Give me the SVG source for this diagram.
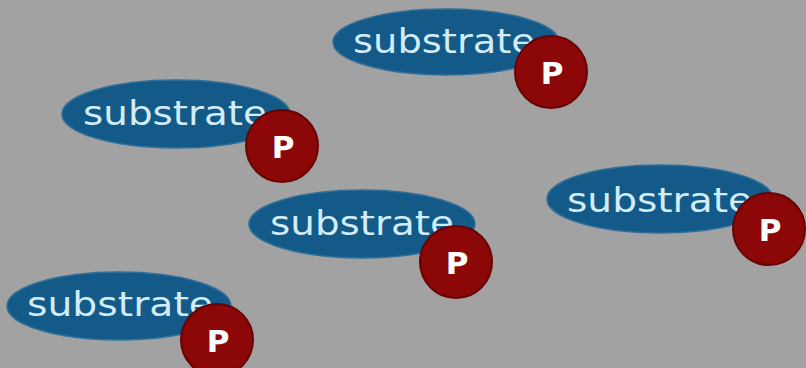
<svg xmlns="http://www.w3.org/2000/svg" width="806" height="368" viewBox="0 0 806 368">
  <style>
    .sub { fill: #135a88; stroke: #2f6f9a; stroke-width: 1.5; }
    .lbl { fill: #d2ecf8; font-family: "DejaVu Sans", Verdana, sans-serif; font-size: 33px; }
    .phos { fill: #8c0808; stroke: #660404; stroke-width: 2; }
    .p { fill: #ffffff; font-family: "DejaVu Sans", Verdana, sans-serif; font-weight: bold; font-size: 31px; text-anchor: middle; }
  </style>
  <rect width="806" height="368" fill="#a2a2a2"/>

  <g id="substrate1">
    <ellipse class="sub" cx="446" cy="42" rx="113" ry="33"/>
    <text class="lbl" x="353" y="53" textLength="182" lengthAdjust="spacingAndGlyphs">substrate</text>
    <circle class="phos" cx="551" cy="72" r="36"/>
    <text class="p" x="552" y="84">P</text>
  </g>

  <g id="substrate2">
    <ellipse class="sub" cx="176" cy="114" rx="114" ry="34"/>
    <text class="lbl" x="83" y="125" textLength="184" lengthAdjust="spacingAndGlyphs">substrate</text>
    <circle class="phos" cx="282" cy="146" r="36"/>
    <text class="p" x="283" y="158">P</text>
  </g>

  <g id="substrate3">
    <ellipse class="sub" cx="362" cy="224" rx="113" ry="34"/>
    <text class="lbl" x="270" y="235" textLength="184" lengthAdjust="spacingAndGlyphs">substrate</text>
    <circle class="phos" cx="456" cy="262" r="36"/>
    <text class="p" x="457" y="274">P</text>
  </g>

  <g id="substrate4">
    <ellipse class="sub" cx="660" cy="199" rx="113" ry="34"/>
    <text class="lbl" x="567" y="212" textLength="185" lengthAdjust="spacingAndGlyphs">substrate</text>
    <circle class="phos" cx="769" cy="229" r="36"/>
    <text class="p" x="770" y="241">P</text>
  </g>

  <g id="substrate5">
    <ellipse class="sub" cx="119" cy="306" rx="112" ry="34"/>
    <text class="lbl" x="27" y="316" textLength="186" lengthAdjust="spacingAndGlyphs">substrate</text>
    <circle class="phos" cx="217" cy="340" r="36"/>
    <text class="p" x="218" y="352">P</text>
  </g>

  <g id="connectors"></g>
</svg>
